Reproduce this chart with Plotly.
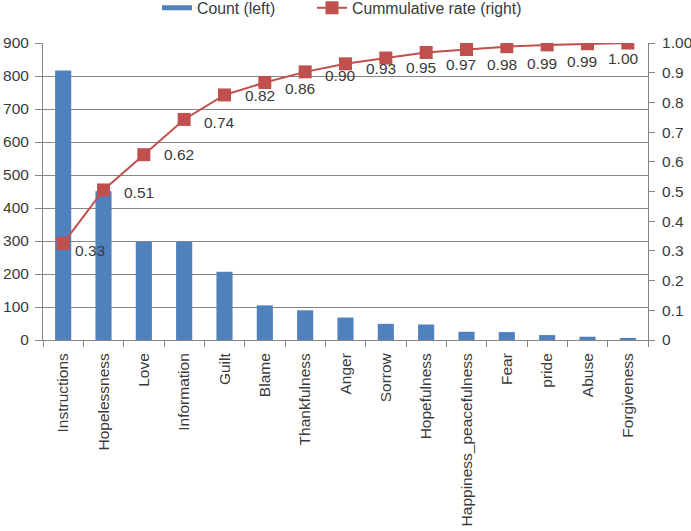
import plotly.graph_objects as go

categories = ["Instructions", "Hopelessness", "Love", "Information", "Guilt", "Blame",
              "Thankfulness", "Anger", "Sorrow", "Hopefulness", "Happiness_peacefulness",
              "Fear", "pride", "Abuse", "Forgiveness"]
counts = [817, 451, 298, 298, 207, 105, 90, 68, 49, 47, 25, 24, 15, 10, 6]
# data labels as printed on the chart (last point has no visible label)
rate_labels = ["0.33", "0.51", "0.62", "0.74", "0.82", "0.86", "0.90", "0.93",
               "0.95", "0.97", "0.98", "0.99", "0.99", "1.00", ""]

left_ticks = [0, 100, 200, 300, 400, 500, 600, 700, 800, 900]
right_tickvals = [0, 0.1, 0.2, 0.3, 0.4, 0.5, 0.6, 0.7, 0.8, 0.9, 1.0]
right_ticktext = ["0", "0.1", "0.2", "0.3", "0.4", "0.5", "0.6", "0.7", "0.8", "0.9", "1.00"]

total = sum(counts)
cum = []
s = 0
for c in counts:
    s += c
    cum.append(s / total)

BLUE = "#4F81BD"
RED = "#C0504D"
TXT = "#3a3a3a"
GRID = "#868686"
FONT = "Liberation Sans, Arial, sans-serif"
FS = 15.5

# label placement (styling)
label_xshift = [10, 18, 18, 18, 18, 18, 18, 18, 18, 18, 18, 18, 18, 18, 18]
label_yshift = [-7, -3, 0, -3, -1, -5.5, -3.5, -5, -9.5, -12.5, -15, -17, -16.5, -15, 0]

fig = go.Figure()
fig.add_trace(go.Bar(x=categories, y=counts, marker=dict(color=BLUE, line=dict(width=0)),
                     width=0.4, name="Count (left)", showlegend=False, yaxis="y"))
# legend swatch for the bars (wide rectangle like the original)
fig.add_trace(go.Scatter(x=[None], y=[None], mode="lines", line=dict(color=BLUE, width=5),
                         name="Count (left)", showlegend=True, yaxis="y", legend="legend"))
fig.add_trace(go.Scatter(x=categories, y=cum, mode="lines+markers", name="Cummulative rate (right)",
                         line=dict(color=RED, width=2),
                         marker=dict(symbol="square", size=13, color=RED),
                         yaxis="y2", legend="legend2"))

for i, (cat, v, lab) in enumerate(zip(categories, cum, rate_labels)):
    if not lab:
        continue
    fig.add_annotation(x=cat, y=v, xref="x", yref="y2", text=lab, showarrow=False,
                       xanchor="left", yanchor="middle",
                       xshift=label_xshift[i], yshift=label_yshift[i],
                       font=dict(family=FONT, size=FS, color=TXT))

legend_common = dict(orientation="h", xanchor="left", xref="paper",
                     y=1 - 8 / 531, yref="container", yanchor="middle",
                     font=dict(family=FONT, size=15.8, color=TXT), bgcolor="rgba(0,0,0,0)")

fig.update_layout(
    width=691, height=531,
    margin=dict(l=43, r=43, t=43, b=191, autoexpand=False),
    paper_bgcolor="white", plot_bgcolor="white",
    font=dict(family=FONT, size=FS, color=TXT),
    showlegend=True,
    legend=dict(x=(157 - 43) / 605, **legend_common),
    legend2=dict(x=(312 - 43) / 605, **legend_common),
    xaxis=dict(type="category", range=[-0.5, len(categories) - 0.5], tickangle=-90,
               showgrid=False, showline=True, automargin=False,
               linecolor=GRID, linewidth=1, ticks="outside", tickson="boundaries",
               ticklen=6, tickcolor=GRID, ticklabelstandoff=6,
               tickfont=dict(family=FONT, size=FS, color=TXT)),
    yaxis=dict(range=[0, 900], tickvals=left_ticks, showgrid=True, gridcolor=GRID, gridwidth=1,
               automargin=False, ticklabelstandoff=3,
               showline=True, linecolor=GRID, linewidth=1, ticks="outside", ticklen=7,
               tickcolor=GRID, zeroline=False, tickfont=dict(family=FONT, size=FS, color=TXT)),
    yaxis2=dict(range=[0, 1], overlaying="y", side="right", tickvals=right_tickvals,
                automargin=False, ticklabelstandoff=4,
                ticktext=right_ticktext, showgrid=False, showline=True, linecolor=GRID,
                linewidth=1, ticks="outside", ticklen=6, tickcolor=GRID, zeroline=False,
                tickfont=dict(family=FONT, size=FS, color=TXT)),
)

fig.write_html("out.html", config={"displayModeBar": False},
               post_script="document.body.style.margin='0px';")
